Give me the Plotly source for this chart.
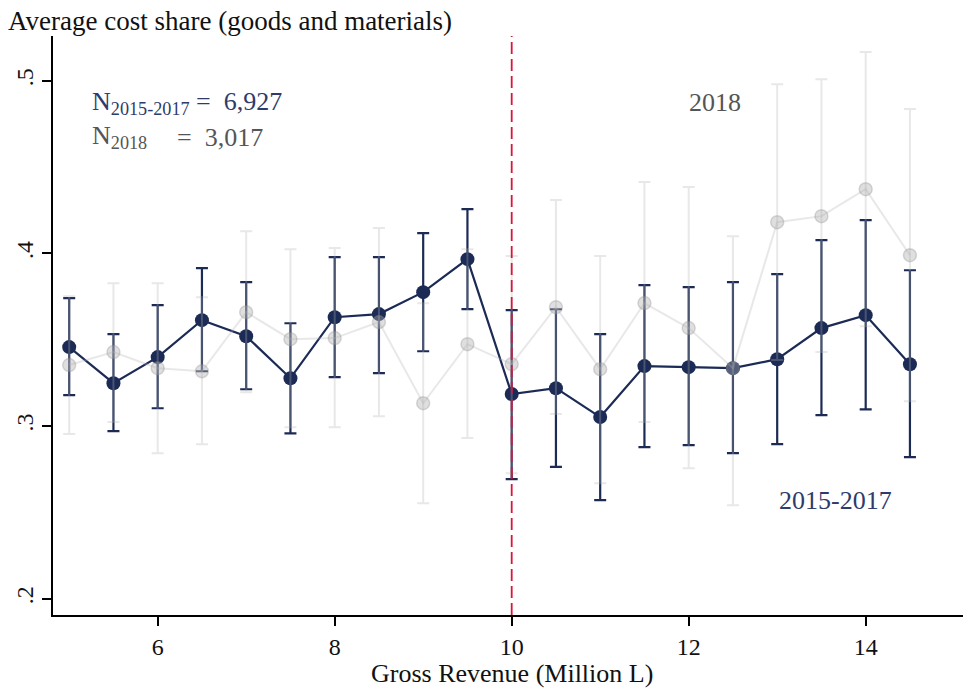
"""Average cost share by gross revenue bin, 2015-2017 vs 2018."""

import plotly.graph_objects as go

# Revenue bins (million L)
revenue = [5, 5.5, 6, 6.5, 7, 7.5, 8, 8.5, 9, 9.5,
           10, 10.5, 11, 11.5, 12, 12.5, 13, 13.5, 14, 14.5]

# 2015-2017 means and confidence bounds
share_1517 = [0.3458, 0.3249, 0.3400, 0.3614, 0.3521, 0.3278, 0.3631, 0.3649, 0.3776, 0.3967,
              0.3186, 0.3220, 0.3053, 0.3348, 0.3342, 0.3336, 0.3388, 0.3568, 0.3643, 0.3359]
upper_1517 = [0.3741, 0.3533, 0.3701, 0.3915, 0.3834, 0.3596, 0.3979, 0.3979, 0.4118, 0.4257,
              0.3672, 0.3677, 0.3533, 0.3817, 0.3805, 0.3834, 0.3880, 0.4077, 0.4193, 0.3903]
lower_1517 = [0.3180, 0.2971, 0.3104, 0.3318, 0.3214, 0.2959, 0.3284, 0.3307, 0.3434, 0.3678,
              0.2694, 0.2764, 0.2572, 0.2879, 0.2890, 0.2844, 0.2896, 0.3064, 0.3098, 0.2821]

# 2018 means and confidence bounds
share_2018 = [0.3354, 0.3429, 0.3336, 0.3318, 0.3660, 0.3504, 0.3510, 0.3603, 0.3133, 0.3475,
              0.3359, 0.3689, 0.3330, 0.3713, 0.3568, 0.3336, 0.4181, 0.4216, 0.4372, 0.3990]
upper_2018 = [0.3753, 0.3828, 0.3828, 0.3747, 0.4129, 0.4025, 0.4031, 0.4147, 0.3712, 0.4025,
              0.3985, 0.4309, 0.3985, 0.4414, 0.4385, 0.4100, 0.4980, 0.5009, 0.5166, 0.4836]
lower_2018 = [0.2955, 0.3024, 0.2844, 0.2896, 0.3197, 0.2994, 0.2994, 0.3058, 0.2554, 0.2931,
              0.2728, 0.3070, 0.2670, 0.3024, 0.2757, 0.2543, 0.3383, 0.3429, 0.3579, 0.3145]

y_ticks = [0.2, 0.3, 0.4, 0.5]
y_tick_labels = [".2", ".3", ".4", ".5"]
x_ticks = [6, 8, 10, 12, 14]

NAVY = "#1c2b55"
FONT = "Liberation Serif"
SIZE = 26
TICK_SIZE = 24

fig = go.Figure()

# 2015-2017 series
fig.add_trace(
    go.Scatter(
        x=revenue,
        y=share_1517,
        mode="lines+markers",
        line=dict(color=NAVY, width=2.2),
        marker=dict(size=14, color=NAVY),
        error_y=dict(
            type="data",
            symmetric=False,
            array=[u - m for u, m in zip(upper_1517, share_1517)],
            arrayminus=[m - l for m, l in zip(share_1517, lower_1517)],
            color=NAVY,
            thickness=2.2,
            width=6,
        ),
        name="2015-2017",
    )
)

# 2018 series (faded, drawn on top)
fig.add_trace(
    go.Scatter(
        x=revenue,
        y=share_2018,
        mode="lines+markers",
        line=dict(color="rgba(180, 180, 180, 0.3)", width=2),
        marker=dict(
            size=13,
            color="rgba(175, 175, 175, 0.4)",
            line=dict(color="rgba(140, 140, 140, 0.3)", width=1.5),
        ),
        error_y=dict(
            type="data",
            symmetric=False,
            array=[u - m for u, m in zip(upper_2018, share_2018)],
            arrayminus=[m - l for m, l in zip(share_2018, lower_2018)],
            color="rgba(180, 180, 180, 0.3)",
            thickness=2,
            width=6,
        ),
        name="2018",
    )
)

# Threshold line
fig.add_vline(x=10, line_dash="12px,5px", line_color="#dc143c", line_width=1.8)

# Sample size and series labels
text_font = dict(family=FONT, size=SIZE)
fig.add_annotation(x=5.24, y=0.487, text="N<sub>2015-2017</sub> =  6,927", showarrow=False,
                   xanchor="left", font=dict(text_font, color="#2e3b6b"))
fig.add_annotation(x=5.24, y=0.4674, text="N<sub>2018</sub>", showarrow=False,
                   xanchor="left", font=dict(text_font, color="#555555"))
fig.add_annotation(x=6.2, y=0.4674, text="=  3,017", showarrow=False,
                   xanchor="left", font=dict(text_font, color="#555555"))
fig.add_annotation(x=12.3, y=0.4876, text="2018", showarrow=False,
                   font=dict(text_font, color="#555555"))
fig.add_annotation(x=13.66, y=0.2571, text="2015-2017", showarrow=False,
                   font=dict(text_font, color="#2e3b6b"))

# X-axis title placed under the tick labels
fig.add_annotation(x=0.5, y=0, xref="paper", yref="paper", yanchor="top", yshift=-42,
                   text="Gross Revenue (Million L)", showarrow=False,
                   font=dict(text_font, color="#111111"))

# The page body adds an 8px offset, so the figure is 8px smaller on each axis
fig.update_layout(
    width=963,
    height=681,
    margin=dict(l=45, r=0, t=28, b=74),
    plot_bgcolor="white",
    paper_bgcolor="white",
    showlegend=False,
    font=dict(family=FONT, size=TICK_SIZE, color="#111111"),
    title=dict(
        text="Average cost share (goods and materials)",
        x=0,
        xanchor="left",
        xref="container",
        y=0.981,
        yanchor="middle",
        yref="container",
        pad=dict(l=0, t=0, b=0, r=0),
        font=dict(family=FONT, size=SIZE + 1, color="#111111"),
    ),
)

fig.update_xaxes(
    range=[4.817, 15.19],
    tickvals=x_ticks,
    ticks="outside",
    ticklen=9,
    tickwidth=1.5,
    tickcolor="black",
    showline=True,
    linecolor="black",
    linewidth=1.5,
    showgrid=False,
    zeroline=False,
    automargin=False,
)
fig.update_yaxes(
    range=[0.1907, 0.5259],
    tickvals=y_ticks,
    ticktext=y_tick_labels,
    tickangle=-90,
    ticks="outside",
    ticklen=9,
    tickwidth=1.5,
    tickcolor="black",
    showline=True,
    linecolor="black",
    linewidth=1.5,
    showgrid=False,
    zeroline=False,
    automargin=False,
)

fig.write_html("out.html")
